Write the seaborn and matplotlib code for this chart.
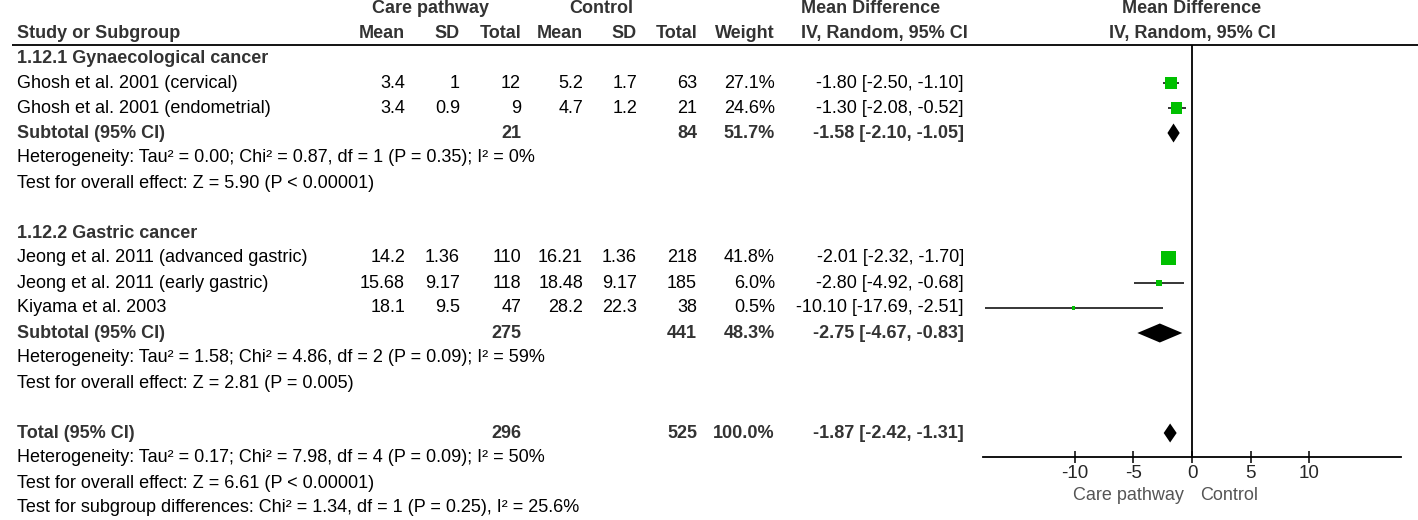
import numpy as np
import pandas as pd
import matplotlib
matplotlib.use("Agg")
import matplotlib.pyplot as plt
import seaborn as sns

# Datos del forest plot
studies = ["Ghosh et al. 2001 (cervical)", "Ghosh et al. 2001 (endometrial)",
           "Jeong et al. 2011 (advanced gastric)", "Jeong et al. 2011 (early gastric)",
           "Kiyama et al. 2003"]
group = [1, 1, 2, 2, 2]
cp_mean = [3.4, 3.4, 14.2, 15.68, 18.1]
cp_sd = [1, 0.9, 1.36, 9.17, 9.5]
cp_n = [12, 9, 110, 118, 47]
ct_mean = [5.2, 4.7, 16.21, 18.48, 28.2]
ct_sd = [1.7, 1.2, 1.36, 9.17, 22.3]
ct_n = [63, 21, 218, 185, 38]
weight = [27.1, 24.6, 41.8, 6.0, 0.5]
md = [-1.80, -1.30, -2.01, -2.80, -10.10]
md_lo = [-2.50, -2.08, -2.32, -4.92, -17.69]
md_hi = [-1.10, -0.52, -1.70, -0.68, -2.51]

subgroups = ["1.12.1 Gynaecological cancer", "1.12.2 Gastric cancer"]
sub_cp_n = [21, 275]
sub_ct_n = [84, 441]
sub_weight = [51.7, 48.3]
sub_md = [-1.58, -2.75]
sub_lo = [-2.10, -4.67]
sub_hi = [-1.05, -0.83]
sub_het = ["Heterogeneity: Tau² = 0.00; Chi² = 0.87, df = 1 (P = 0.35); I² = 0%",
           "Heterogeneity: Tau² = 1.58; Chi² = 4.86, df = 2 (P = 0.09); I² = 59%"]
sub_test = ["Test for overall effect: Z = 5.90 (P < 0.00001)",
            "Test for overall effect: Z = 2.81 (P = 0.005)"]

tot_cp_n = 296
tot_ct_n = 525
tot_weight = 100.0
tot_md = -1.87
tot_lo = -2.42
tot_hi = -1.31
tot_lines = ["Heterogeneity: Tau² = 0.17; Chi² = 7.98, df = 4 (P = 0.09); I² = 50%",
             "Test for overall effect: Z = 6.61 (P < 0.00001)",
             "Test for subgroup differences: Chi² = 1.34, df = 1 (P = 0.25), I² = 25.6%"]

ticks = [-10, -5, 0, 5, 10]

# Filas
study_rows = [3, 4, 10, 11, 12]
sub_rows = [5, 13]
grp_rows = [2, 9]
tot_row = 17

df = pd.DataFrame({"study": studies, "md": md, "lo": md_lo, "hi": md_hi,
                   "weight": weight, "row": study_rows})

sns.set_style("white")
plt.rcParams['font.family'] = ['Liberation Sans', 'DejaVu Sans']
fs = 13
dark = "#333333"

fig = plt.figure(figsize=(14.18, 5.2), dpi=100)
ylim = (20.48, -0.32)

tab = fig.add_axes([0, 0, 1, 1])
tab.set_xlim(0, 1418)
tab.set_ylim(*ylim)
tab.axis("off")

ax = fig.add_axes([983 / 1418, 0, 418 / 1418, 1])
ax.set_xlim(-17.86, 17.86)
ax.set_ylim(*ylim)
ax.patch.set_alpha(0)

# Cabeceras
cols = [405, 460, 521, 583, 637, 697, 775, 964]
tab.text(431, 0, "Care pathway", ha="center", va="center", fontsize=fs, weight="bold", color=dark)
tab.text(601, 0, "Control", ha="center", va="center", fontsize=fs, weight="bold", color=dark)
tab.text(801, 0, "Mean Difference", ha="left", va="center", fontsize=fs, weight="bold", color=dark)
tab.text(17, 1, "Study or Subgroup", ha="left", va="center", fontsize=fs, weight="bold", color=dark)
for x, h in zip(cols[:7], ["Mean", "SD", "Total", "Mean", "SD", "Total", "Weight"]):
    tab.text(x, 1, h, ha="right", va="center", fontsize=fs, weight="bold", color=dark)
tab.text(801, 1, "IV, Random, 95% CI", ha="left", va="center", fontsize=fs, weight="bold", color=dark)
tab.hlines(1.46, 12, 1418, color="black", lw=1.3)

ax.text(0, 0, "Mean Difference", ha="center", va="center", fontsize=fs, weight="bold", color=dark)
ax.text(0, 1, "IV, Random, 95% CI", ha="center", va="center", fontsize=fs, weight="bold", color=dark)

# Estudios
for i, r in enumerate(study_rows):
    vals = [f"{cp_mean[i]:g}", f"{cp_sd[i]:g}", f"{cp_n[i]}", f"{ct_mean[i]:g}",
            f"{ct_sd[i]:g}", f"{ct_n[i]}", f"{weight[i]:.1f}%",
            f"{md[i]:.2f} [{md_lo[i]:.2f}, {md_hi[i]:.2f}]"]
    tab.text(17, r, studies[i], ha="left", va="center", fontsize=fs, color="black")
    for x, v in zip(cols, vals):
        tab.text(x, r, v, ha="right", va="center", fontsize=fs, color="black")

# Subgrupos
for j in range(2):
    tab.text(17, grp_rows[j], subgroups[j], ha="left", va="center", fontsize=fs, weight="bold", color=dark)
    r = sub_rows[j]
    tab.text(17, r, "Subtotal (95% CI)", ha="left", va="center", fontsize=fs, weight="bold", color=dark)
    tab.text(cols[2], r, f"{sub_cp_n[j]}", ha="right", va="center", fontsize=fs, weight="bold", color=dark)
    tab.text(cols[5], r, f"{sub_ct_n[j]}", ha="right", va="center", fontsize=fs, weight="bold", color=dark)
    tab.text(cols[6], r, f"{sub_weight[j]:.1f}%", ha="right", va="center", fontsize=fs, weight="bold", color=dark)
    tab.text(cols[7], r, f"{sub_md[j]:.2f} [{sub_lo[j]:.2f}, {sub_hi[j]:.2f}]", ha="right",
             va="center", fontsize=fs, weight="bold", color=dark)
    tab.text(17, r + 1, sub_het[j], ha="left", va="center", fontsize=fs, color="black")
    tab.text(17, r + 2, sub_test[j], ha="left", va="center", fontsize=fs, color="black")

# Total
tab.text(17, tot_row, "Total (95% CI)", ha="left", va="center", fontsize=fs, weight="bold", color=dark)
tab.text(cols[2], tot_row, f"{tot_cp_n}", ha="right", va="center", fontsize=fs, weight="bold", color=dark)
tab.text(cols[5], tot_row, f"{tot_ct_n}", ha="right", va="center", fontsize=fs, weight="bold", color=dark)
tab.text(cols[6], tot_row, f"{tot_weight:.1f}%", ha="right", va="center", fontsize=fs, weight="bold", color=dark)
tab.text(cols[7], tot_row, f"{tot_md:.2f} [{tot_lo:.2f}, {tot_hi:.2f}]", ha="right",
         va="center", fontsize=fs, weight="bold", color=dark)
for k, line in enumerate(tot_lines):
    tab.text(17, tot_row + 1 + k, line, ha="left", va="center", fontsize=fs, color="black")

# Forest
axis_y = 17.96
ax.vlines(0, 1.46, axis_y, color="black", lw=1.3)
ax.hlines(df["row"], df["lo"], df["hi"], color="black", lw=1.1, zorder=2)
sns.scatterplot(data=df, x="md", y="row", size="weight", sizes=(5, 110), marker="s",
                color="#00c000", edgecolor="none", legend=False, ax=ax, zorder=3)

h = 0.38
for m, lo, hi, r in zip(sub_md + [tot_md], sub_lo + [tot_lo], sub_hi + [tot_hi], sub_rows + [tot_row]):
    ax.fill([lo, m, hi, m], [r, r - h, r, r + h], color="black", lw=0, zorder=3)

for s in ["top", "right", "left"]:
    ax.spines[s].set_visible(False)
ax.spines["bottom"].set_position(("data", axis_y))
ax.spines["bottom"].set_linewidth(1.3)
ax.spines["bottom"].set_color("black")
ax.set_xticks(ticks)
ax.set_xticklabels([str(t) for t in ticks])
ax.tick_params(axis="x", direction="inout", length=9, width=1.3, labelsize=13.5, pad=1, bottom=True)
ax.set_yticks([])
ax.set_xlabel("")
ax.set_ylabel("")
ax.text(-0.7, 19.5, "Care pathway", ha="right", va="center", fontsize=fs, color="#555555")
ax.text(0.7, 19.5, "Control", ha="left", va="center", fontsize=fs, color="#555555")

fig.savefig("out.png", dpi=100)
